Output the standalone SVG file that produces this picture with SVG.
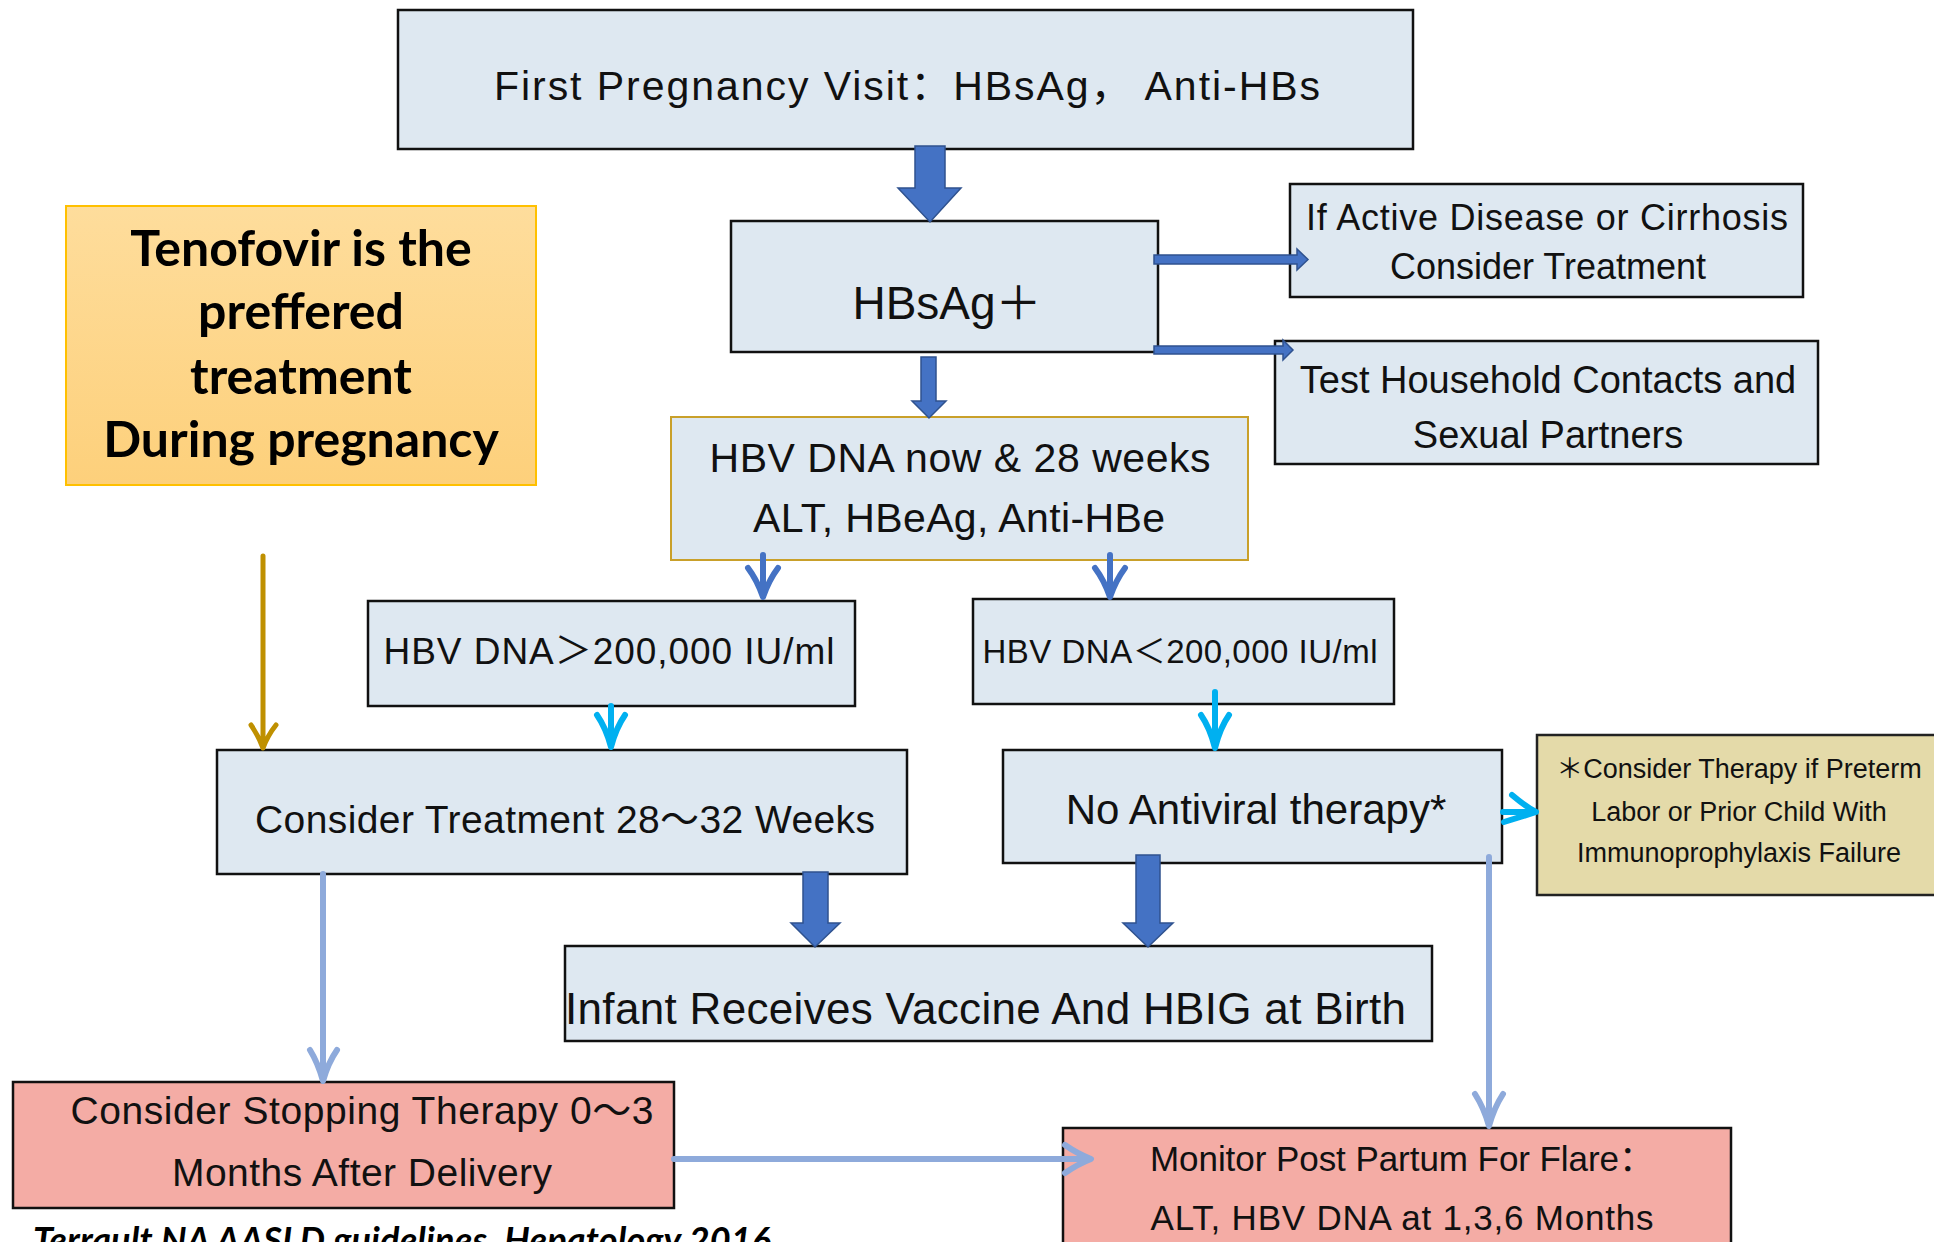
<svg xmlns="http://www.w3.org/2000/svg" width="1934" height="1242" viewBox="0 0 1934 1242">
<defs>
<linearGradient id="gold" x1="0" y1="0" x2="0" y2="1">
<stop offset="0" stop-color="#fedd9c"/>
<stop offset="1" stop-color="#fdd07b"/>
</linearGradient>
<style>
.box{fill:#dee8f1;stroke:#111;stroke-width:2.5}
.pink{fill:#f4aca5;stroke:#111;stroke-width:2.5}
.khaki{fill:#e4daa9;stroke:#222;stroke-width:2.5}
.t{font-family:"Liberation Sans","Noto Sans CJK SC",Arial,sans-serif;fill:#111;text-anchor:middle}
.ts{font-family:"Liberation Sans","Noto Sans CJK SC",Arial,sans-serif;fill:#111;text-anchor:start}
.b{font-family:Lato,"Open Sans",sans-serif;font-weight:bold;fill:#000;text-anchor:middle}
.blk{fill:#4472c4;stroke:#2f528f;stroke-width:1.5}
.vb{fill:none;stroke:#4472c4;stroke-width:6;stroke-linecap:round;stroke-linejoin:round}
.vc{fill:none;stroke:#00b0f0;stroke-width:6;stroke-linecap:round;stroke-linejoin:round}
.vl{fill:none;stroke:#8eaadb;stroke-width:6;stroke-linecap:round;stroke-linejoin:round}
.vg{fill:none;stroke:#bf9000;stroke-width:5;stroke-linecap:round;stroke-linejoin:round}
</style>
</defs>
<rect width="1934" height="1242" fill="#fff"/>

<g id="n-first">
<rect class="box" x="398" y="10" width="1015" height="139" stroke-width="3"/>
<text class="t" x="907" y="100" font-size="41" textLength="826" lengthAdjust="spacing">First Pregnancy Visit：HBsAg， Anti-HBs</text>
</g>

<g id="n-tenofovir">
<rect x="66" y="206" width="470" height="279" fill="url(#gold)" stroke="#ffc000" stroke-width="2"/>
<text class="b" x="301" y="266" font-size="50">Tenofovir is the</text>
<text class="b" x="301" y="329" font-size="50">preffered</text>
<text class="b" x="301" y="394" font-size="50">treatment</text>
<text class="b" x="301" y="457" font-size="50">During pregnancy</text>
</g>

<g id="n-hbsag">
<rect class="box" x="731" y="221" width="427" height="131"/>
<text class="t" x="947" y="319" font-size="46">HBsAg＋</text>
</g>

<g id="n-active">
<rect class="box" x="1290" y="184" width="513" height="113"/>
<text class="t" x="1547" y="230" font-size="36" textLength="482" lengthAdjust="spacing">If Active Disease or Cirrhosis</text>
<text class="t" x="1548" y="279" font-size="36">Consider Treatment</text>
</g>

<g id="n-household">
<rect class="box" x="1275" y="341" width="543" height="123"/>
<text class="t" x="1548" y="393" font-size="38">Test Household Contacts and</text>
<text class="t" x="1548" y="448" font-size="38">Sexual Partners</text>
</g>

<g id="n-dna">
<rect x="671" y="417" width="577" height="143" fill="#dee8f1" stroke="#c9a02a" stroke-width="2"/>
<text class="t" x="960" y="472" font-size="41" textLength="501" lengthAdjust="spacing">HBV DNA now &amp; 28 weeks</text>
<text class="t" x="959" y="532" font-size="41" textLength="412" lengthAdjust="spacing">ALT, HBeAg, Anti-HBe</text>
</g>

<g id="n-high">
<rect class="box" x="368" y="601" width="487" height="105"/>
<text class="t" x="609" y="664" font-size="37" textLength="451" lengthAdjust="spacing">HBV DNA＞200,000 IU/ml</text>
</g>

<g id="n-low">
<rect class="box" x="973" y="599" width="421" height="105"/>
<text class="t" x="1180" y="663" font-size="33" textLength="395" lengthAdjust="spacing">HBV DNA＜200,000 IU/ml</text>
</g>

<g id="n-treat">
<rect class="box" x="217" y="750" width="690" height="124"/>
<text class="t" x="565" y="833" font-size="39" textLength="620" lengthAdjust="spacing">Consider Treatment 28～32 Weeks</text>
</g>

<g id="n-noav">
<rect class="box" x="1003" y="750" width="499" height="113"/>
<text class="t" x="1256" y="824" font-size="42">No Antiviral therapy*</text>
</g>

<g id="n-note">
<rect class="khaki" x="1537" y="735" width="405" height="160"/>
<text class="t" x="1739" y="778" font-size="27">＊Consider Therapy if Preterm</text>
<text class="t" x="1739" y="821" font-size="27">Labor or Prior Child With</text>
<text class="t" x="1739" y="862" font-size="27">Immunoprophylaxis Failure</text>
</g>

<g id="n-infant">
<rect class="box" x="565" y="946" width="867" height="95"/>
<text class="ts" x="565" y="1024" font-size="44" textLength="841" lengthAdjust="spacing">Infant Receives Vaccine And HBIG at Birth</text>
</g>

<g id="n-stop">
<rect class="pink" x="13" y="1082" width="661" height="126"/>
<text class="t" x="362" y="1124" font-size="39" textLength="583" lengthAdjust="spacing">Consider Stopping Therapy 0～3</text>
<text class="t" x="362" y="1186" font-size="39" textLength="380" lengthAdjust="spacing">Months After Delivery</text>
</g>

<g id="n-monitor">
<rect class="pink" x="1063" y="1128" width="668" height="130"/>
<text class="t" x="1402" y="1171" font-size="35" textLength="504" lengthAdjust="spacing">Monitor Post Partum For Flare：</text>
<text class="t" x="1402" y="1230" font-size="35" textLength="503" lengthAdjust="spacing">ALT, HBV DNA at 1,3,6 Months</text>
</g>

<g id="footer">
<text x="33" y="1253" font-family="Lato,'Open Sans',sans-serif" font-weight="bold" font-style="italic" font-size="36" fill="#000" textLength="738" lengthAdjust="spacing">Terrault NA AASLD guidelines. Hepatology 2016</text>
</g>

<g id="connectors">
<polygon class="blk" points="915,146 945,146 945,188 961,188 930,222 898,188 915,188"/>
<polygon class="blk" points="1154,255 1297,255 1297,249 1308,259.5 1297,270 1297,264 1154,264"/>
<polygon class="blk" points="1154,346 1283,346 1283,340 1293,350 1283,360 1283,354 1154,354"/>
<polygon class="blk" points="921,357 936,357 936,401 946,401 929,418 912,401 921,401"/>
<path class="vb" d="M763,555 V596 M748,568 Q757,580 763,597 Q769,580 778,568"/>
<path class="vb" d="M1110,555 V596 M1095,568 Q1104,580 1110,597 Q1116,580 1125,568"/>
<path class="vc" d="M611,706 V746 M597,715 Q606,728 611,747 Q616,728 625,715"/>
<path class="vc" d="M1215,692 V747 M1201,715 Q1210,728 1215,748 Q1220,728 1229,715"/>
<path class="vc" d="M1503,812 H1532 M1512,795 Q1525,806 1536,812 Q1520,817 1504,822"/>
<path class="vg" d="M263,556 V746 M251,725 Q258,735 263,748 Q268,735 276,725"/>
<polygon class="blk" points="803,872 828,872 828,923 840,923 815,947 791,923 803,923"/>
<polygon class="blk" points="1136,855 1160,855 1160,923 1173,923 1148,947 1123,923 1136,923"/>
<path class="vl" d="M323,874 V1079 M310,1050 Q318,1063 323,1081 Q328,1063 337,1050"/>
<path class="vl" d="M1489,857 V1124 M1475,1094 Q1484,1108 1489,1126 Q1494,1108 1503,1094"/>
<path class="vl" d="M674,1159 H1088 M1065,1145 Q1078,1154 1091,1159 Q1078,1164 1065,1173"/>
</g>
</svg>
